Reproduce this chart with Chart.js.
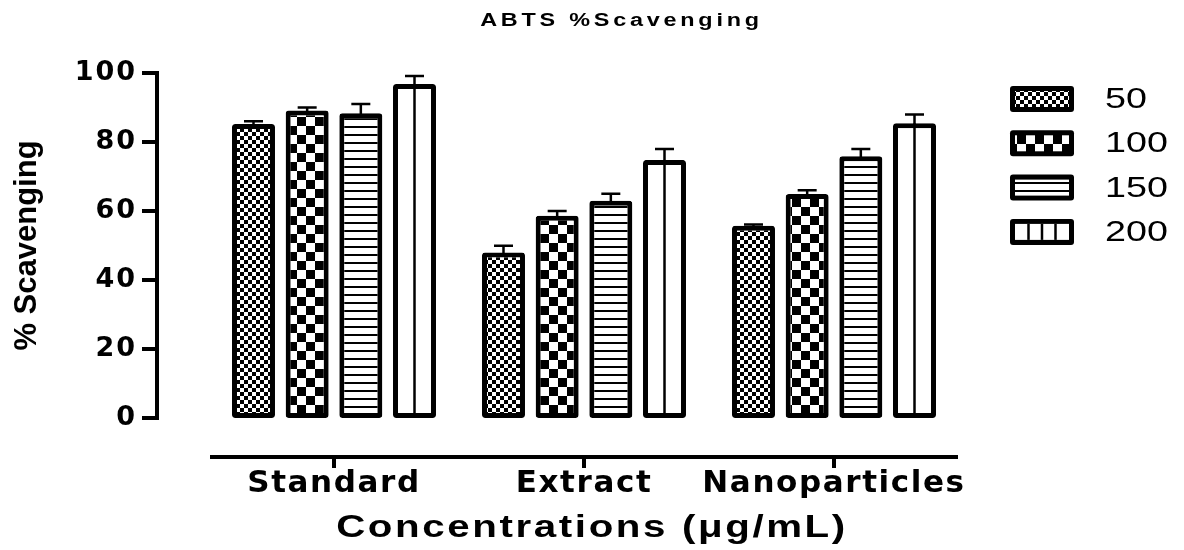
<!DOCTYPE html>
<html>
<head>
<meta charset="utf-8">
<script src="https://cdn.jsdelivr.net/npm/chart.js@4/dist/chart.umd.min.js"></script>
<style>
html, body { margin: 0; padding: 0; background: #fff; }
#c { display: block; }
</style>
</head>
<body>
<canvas id="c" width="1184" height="550"></canvas>
<script>
// ---- data ----
const categories = ['Standard', 'Extract', 'Nanoparticles'];
const seriesNames = ['50', '100', '150', '200'];
const conc50  = [85.2, 48.0, 55.7];
const conc100 = [89.1, 58.6, 64.9];
const conc150 = [88.3, 63.0, 75.9];
const conc200 = [96.8, 74.8, 85.4];
const err50  = [0.8, 1.9, 0.4];
const err100 = [0.9, 1.4, 1.1];
const err150 = [2.7, 2.0, 2.1];
const err200 = [2.3, 3.2, 2.6];
const yTickValues = [0, 20, 40, 60, 80, 100];
const chartTitle = 'ABTS %Scavenging';
const yTitle = '% Scavenging';
const xTitle = 'Concentrations (\u03bcg/mL)';

// ---- patterns ----
const canvas = document.getElementById('c');
const ctx = canvas.getContext('2d');
function makePattern(w, h, drawFn) {
  const c = document.createElement('canvas');
  c.width = w; c.height = h;
  const g = c.getContext('2d');
  g.fillStyle = '#fff'; g.fillRect(0, 0, w, h);
  g.fillStyle = '#000';
  drawFn(g);
  return ctx.createPattern(c, 'repeat');
}
const pat50 = makePattern(8, 8, g => { g.fillRect(0, 0, 4, 4); g.fillRect(4, 4, 4, 4); });
const pat100 = makePattern(18, 18, g => { g.fillRect(0, 0, 9, 9); g.fillRect(9, 9, 9, 9); });
const pat150 = makePattern(4, 8, g => { g.fillRect(0, 6, 4, 2); });
const fills = [pat50, pat100, pat150, '#ffffff'];
const values = [conc50, conc100, conc150, conc200];
const errors = [err50, err100, err150, err200];

const datasets = seriesNames.map((name, i) => ({
  label: name,
  data: values[i],
  errors: errors[i],
  backgroundColor: fills[i],
  borderColor: '#000',
  borderWidth: 5,
  borderSkipped: false,
  borderRadius: 3,
  categoryPercentage: 0.8587,
  barPercentage: 0.801
}));

// wrap a text-drawing method with letter spacing and optional horizontal stretch
function wrapText(obj, method, chart, o) {
  if (!obj || obj['_wt_' + method]) return;
  const orig = obj[method];
  obj[method] = function (...args) {
    const c = chart.ctx;
    c.save();
    if (o.spacing) c.letterSpacing = o.spacing;
    if (o.sx) {
      const cx = (this.left + this.right) / 2;
      c.translate(cx + (o.dx || 0), 0);
      c.scale(o.sx, 1);
      c.translate(-cx, 0);
    }
    const r = orig.apply(this, args);
    c.restore();
    return r;
  };
  obj['_wt_' + method] = true;
}

// ---- plugin: axes, error bars, legend, text styling ----
const decor = {
  id: 'decor',
  beforeDraw(chart) {
    wrapText(chart.titleBlock, 'draw', chart, { spacing: '2.9px', sx: 1.3 });
    wrapText(chart.scales.x, 'drawTitle', chart, { spacing: '2px', sx: 1.3, dx: 8 });
    wrapText(chart.scales.x, 'drawLabels', chart, { spacing: '1.6px' });
    wrapText(chart.scales.y, 'drawLabels', chart, { spacing: '2px' });
  },
  afterDatasetsDraw(chart) {
    const c = chart.ctx;
    const ys = chart.scales.y;
    c.save();
    c.strokeStyle = '#000';
    chart.data.datasets.forEach((ds, i) => {
      const meta = chart.getDatasetMeta(i);
      meta.data.forEach((el, j) => {
        if (i === 3) {
          c.lineWidth = 2.5;
          c.beginPath();
          c.moveTo(el.x, el.y);
          c.lineTo(el.x, el.base - 5);
          c.stroke();
        }
        const top = ys.getPixelForValue(ds.data[j] + ds.errors[j]);
        c.lineWidth = 2.5;
        c.beginPath();
        c.moveTo(el.x, el.y + 2);
        c.lineTo(el.x, top);
        c.moveTo(el.x - 9.5, top);
        c.lineTo(el.x + 9.5, top);
        c.stroke();
      });
    });
    c.restore();
  },
  afterDraw(chart) {
    const c = chart.ctx;
    const ca = chart.chartArea;
    const ys = chart.scales.y, xs = chart.scales.x;
    c.save();
    c.strokeStyle = '#000';
    c.fillStyle = '#000';
    c.lineCap = 'butt';
    // y axis
    const ax = ca.left - 52;
    c.lineWidth = 4;
    c.beginPath();
    c.moveTo(ax, ys.getPixelForValue(100) - 2);
    c.lineTo(ax, ys.getPixelForValue(0) + 2);
    c.stroke();
    ys.ticks.forEach(t => {
      const py = ys.getPixelForValue(t.value);
      c.beginPath();
      c.moveTo(ax - 15, py);
      c.lineTo(ax, py);
      c.stroke();
    });
    // x axis
    const ay = ca.bottom + 39;
    c.beginPath();
    c.moveTo(ca.left + 1, ay);
    c.lineTo(ca.right - 1, ay);
    c.stroke();
    xs.ticks.forEach((t, i) => {
      const px = xs.getPixelForTick(i);
      c.beginPath();
      c.moveTo(px, ay);
      c.lineTo(px, ay + 11);
      c.stroke();
    });
    // legend
    const legX = ca.right + 51, legY = ca.top + 13, bw = 64, bh = 26, step = 44.3;
    chart.data.datasets.forEach((ds, i) => {
      const yy = legY + i * step;
      c.fillStyle = '#000';
      c.beginPath();
      c.roundRect(legX, yy, bw, bh, 3);
      c.fill();
      c.fillStyle = ds.backgroundColor;
      c.fillRect(legX + 5, yy + 5, bw - 10, bh - 10);
      if (i === 3) {
        c.lineWidth = 2.5;
        for (let k = 1; k <= 3; k++) {
          const lx = legX + 5 + (bw - 10) * k / 4;
          c.beginPath();
          c.moveTo(lx, yy + 5);
          c.lineTo(lx, yy + bh - 5);
          c.stroke();
        }
      }
      c.save();
      c.fillStyle = '#000';
      c.font = '29px "Liberation Sans"';
      c.textBaseline = 'middle';
      c.textAlign = 'left';
      c.translate(legX + 95, yy + bh / 2 + 1);
      c.scale(1.3, 1);
      c.fillText(ds.label, 0, 0);
      c.restore();
    });
    c.restore();
  }
};

new Chart(ctx, {
  type: 'bar',
  data: { labels: categories, datasets: datasets },
  plugins: [decor],
  options: {
    responsive: false,
    animation: false,
    devicePixelRatio: 1,
    layout: { padding: { left: 59, right: 0, top: 0, bottom: 0 } },
    plugins: {
      legend: { display: false },
      tooltip: { enabled: false },
      title: {
        display: true,
        text: chartTitle,
        color: '#000',
        font: { family: 'Liberation Sans', size: 18, weight: 'bold', lineHeight: 1.2 },
        padding: { top: 10.7, bottom: 40.7 }
      }
    },
    scales: {
      x: {
        grid: { display: false, drawTicks: false },
        border: { display: false },
        ticks: {
          color: '#000',
          font: { family: 'DejaVu Sans', size: 31, weight: 'bold', lineHeight: 1.2 },
          padding: 47,
          maxRotation: 0,
          autoSkip: false
        },
        title: {
          display: true,
          text: xTitle,
          color: '#000',
          font: { family: 'Liberation Sans', size: 31, weight: 'bold', lineHeight: 1.2 },
          padding: { top: 0, bottom: 3 }
        },
        afterFit: s => { s.height = 132; s.paddingLeft = 0; s.paddingRight = 0; }
      },
      y: {
        min: 0,
        max: 100,
        position: 'left',
        grid: { display: false, drawTicks: false },
        border: { display: false },
        afterBuildTicks: s => { s.ticks = yTickValues.map(v => ({ value: v })); },
        ticks: {
          color: '#000',
          font: { family: 'DejaVu Sans', size: 27, weight: 'bold' },
          padding: 72
        },
        title: {
          display: true,
          text: yTitle,
          color: '#000',
          font: { family: 'Liberation Sans', size: 31, weight: 'bold', lineHeight: 1.2 },
          padding: { top: -50, bottom: 0 }
        },
        afterFit: s => { s.width = 150; s.paddingTop = 0; s.paddingBottom = 0; }
      },
      yPad: {
        type: 'linear',
        position: 'right',
        display: true,
        grid: { display: false, drawTicks: false },
        border: { display: false },
        ticks: { display: false },
        afterFit: s => { s.width = 225; s.paddingTop = 0; s.paddingBottom = 0; }
      }
    }
  }
});
</script>
</body>
</html>
